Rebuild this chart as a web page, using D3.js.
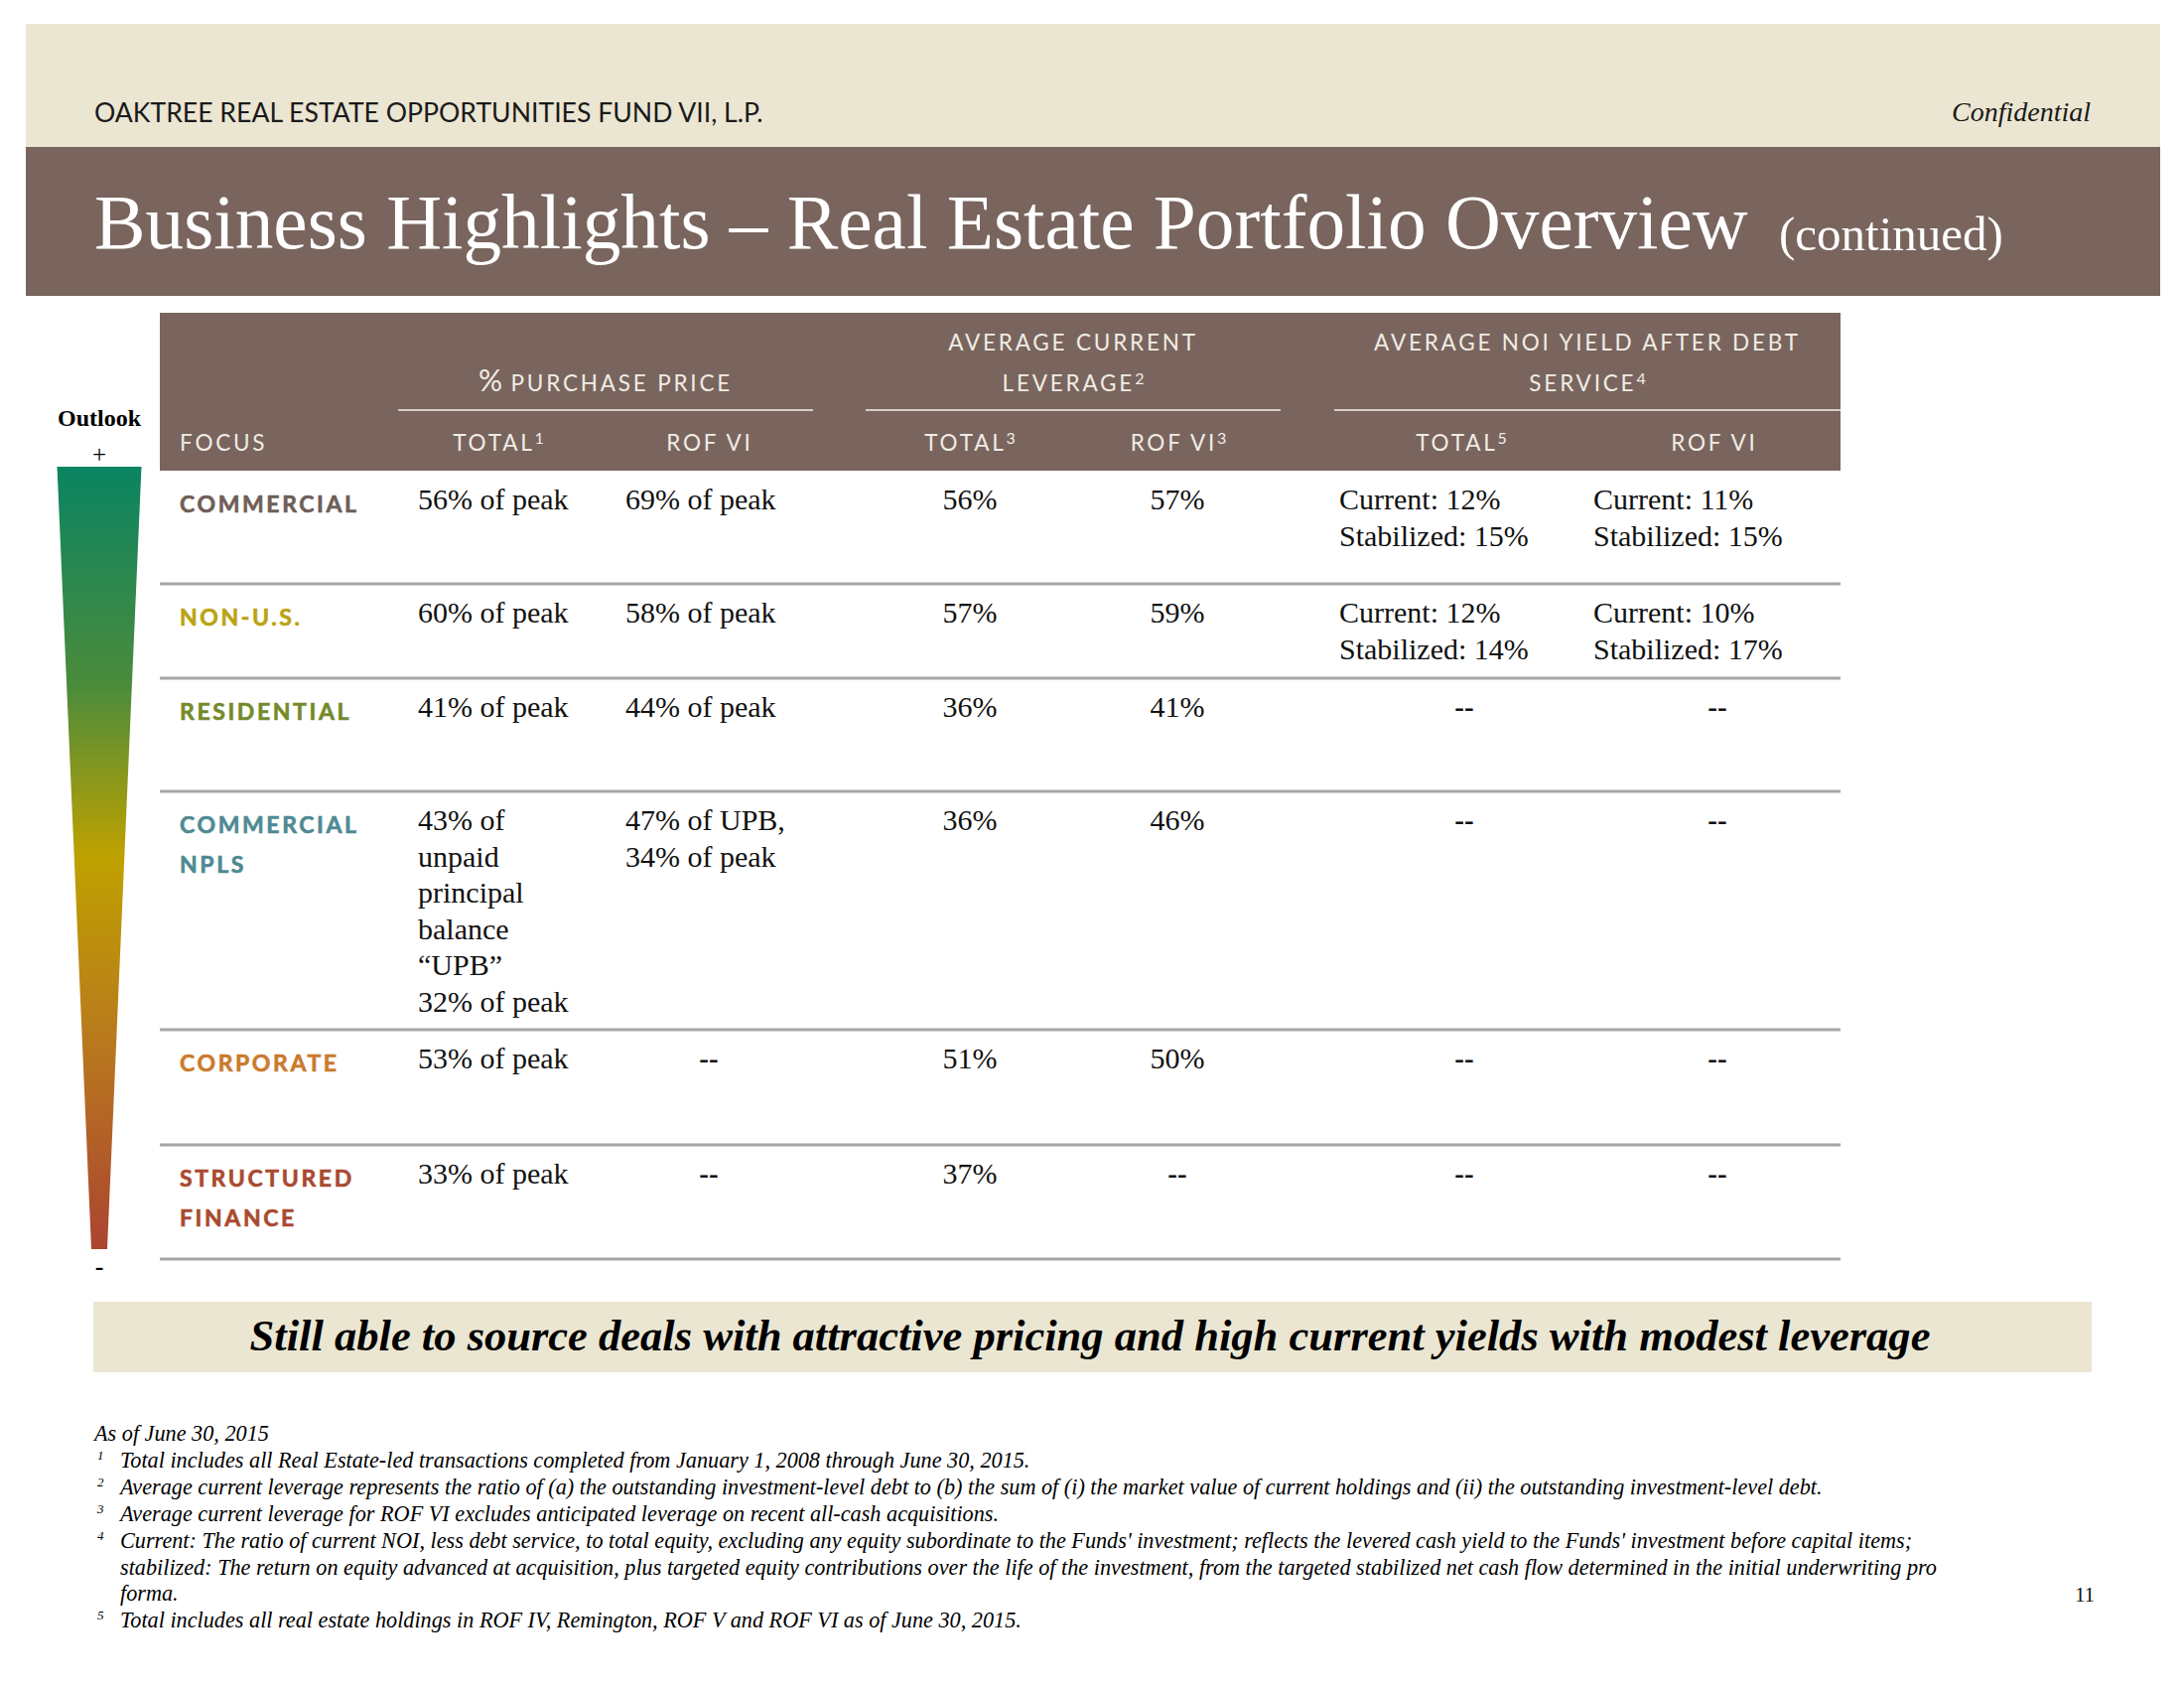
<!DOCTYPE html>
<html>
<head>
<meta charset="utf-8">
<script src="https://cdn.jsdelivr.net/npm/d3@7"></script>
<style>
  body { margin: 0; background: #fff; }
  svg { display: block; }
</style>
</head>
<body>
<svg id="chart" width="2200" height="1700"></svg>
<script>
// ---- data ----
var categories = ["COMMERCIAL", "NON-U.S.", "RESIDENTIAL", "COMMERCIAL NPLS", "CORPORATE", "STRUCTURED FINANCE"];
var categoryLines = [["COMMERCIAL"], ["NON-U.S."], ["RESIDENTIAL"], ["COMMERCIAL", "NPLS"], ["CORPORATE"], ["STRUCTURED", "FINANCE"]];
var categoryColors = ["#6f5e58", "#bba312", "#758a2b", "#4e8a93", "#c97b2d", "#a94a30"];

var purchaseTotal = [["56% of peak"], ["60% of peak"], ["41% of peak"],
  ["43% of", "unpaid", "principal", "balance", "\u201cUPB\u201d", "32% of peak"], ["53% of peak"], ["33% of peak"]];
var purchaseRof = [["69% of peak"], ["58% of peak"], ["44% of peak"], ["47% of UPB,", "34% of peak"], null, null];
var leverageTotal = [56, 57, 36, 36, 51, 37];
var leverageRof = [57, 59, 41, 46, 50, null];
var noiTotalCurrent = [12, 12, null, null, null, null];
var noiTotalStabilized = [15, 14, null, null, null, null];
var noiRofCurrent = [11, 10, null, null, null, null];
var noiRofStabilized = [15, 17, null, null, null, null];

var footnotes = [
  {n: "", lines: ["As of June 30, 2015"]},
  {n: "1", lines: ["Total includes all Real Estate-led transactions completed from January 1, 2008 through June 30, 2015."]},
  {n: "2", lines: ["Average current leverage represents the ratio of (a) the outstanding investment-level debt to (b) the sum of (i) the market value of current holdings and (ii) the outstanding investment-level debt."]},
  {n: "3", lines: ["Average current leverage for ROF VI excludes anticipated leverage on recent all-cash acquisitions."]},
  {n: "4", lines: ["Current: The ratio of current NOI, less debt service, to total equity, excluding any equity subordinate to the Funds' investment; reflects the levered cash yield to the Funds' investment before capital items;",
                   "stabilized: The return on equity advanced at acquisition, plus targeted equity contributions over the life of the investment, from the targeted stabilized net cash flow determined in the initial underwriting pro",
                   "forma."]},
  {n: "5", lines: ["Total includes all real estate holdings in ROF IV, Remington, ROF V and ROF VI as of June 30, 2015."]}
];

var outlookStops = [
  {offset: 0, color: "#0a8462"},
  {offset: 0.28, color: "#4b8b3b"},
  {offset: 0.5, color: "#bfa100"},
  {offset: 0.75, color: "#b8761f"},
  {offset: 1, color: "#ab4431"}
];

// ---- layout ----
var brown = "#79655e", beige = "#ebe6d2", rule = "#a6a6a6";
var serif = "'Liberation Serif', 'Times New Roman', serif";
var sans = "Lato, 'Open Sans', sans-serif";
var tableLeft = 161, tableRight = 1854, headTop = 315, headBottom = 474;
var rowHeights = [114, 95, 114, 240, 116, 115];
var lineH = 36.5;

var svg = d3.select("#chart");

function fit(sel, w) {
  var len = sel.node().getComputedTextLength();
  var fs = parseFloat(sel.attr("font-size"));
  sel.attr("font-size", fs * w / len);
  return fs * w / len;
}

// page bands
svg.append("rect").attr("x", 26).attr("y", 24).attr("width", 2150).attr("height", 124).attr("fill", beige);
svg.append("rect").attr("x", 26).attr("y", 148).attr("width", 2150).attr("height", 150).attr("fill", brown);

var top1 = svg.append("text").attr("x", 95).attr("y", 123).attr("font-family", sans)
  .attr("font-size", 24).attr("fill", "#1a1a1a").text("OAKTREE REAL ESTATE OPPORTUNITIES FUND VII, L.P.");
fit(top1, 674);
var conf = svg.append("text").attr("x", 2106).attr("y", 122).attr("text-anchor", "end").attr("font-family", serif)
  .attr("font-style", "italic").attr("font-size", 26).attr("fill", "#1a1a1a").text("Confidential");
fit(conf, 140);

var title = svg.append("text").attr("x", 95).attr("y", 250).attr("font-family", serif)
  .attr("font-size", 72).attr("fill", "#fff").text("Business Highlights \u2013 Real Estate Portfolio Overview");
fit(title, 1666);
var cont = svg.append("text").attr("x", 1792).attr("y", 252).attr("font-family", serif)
  .attr("font-size", 46).attr("fill", "#fff").text("(continued)");
fit(cont, 226);

// table header
svg.append("rect").attr("x", tableLeft).attr("y", headTop).attr("width", tableRight - tableLeft)
  .attr("height", headBottom - headTop).attr("fill", brown);

var headColor = "#f1ece4";
var headSize = 22.5, headSpacing = 2.8;
var groups = [
  {lines: [[{t: "%", big: true}, {t: " PURCHASE PRICE"}]], x0: 401, x1: 819},
  {lines: [[{t: "AVERAGE CURRENT"}], [{t: "LEVERAGE"}, {t: "2", sup: true}]], x0: 872, x1: 1290},
  {lines: [[{t: "AVERAGE NOI YIELD AFTER DEBT"}], [{t: "SERVICE"}, {t: "4", sup: true}]], x0: 1344, x1: 1854}
];
groups.forEach(function(g) {
  var cx = (g.x0 + g.x1) / 2;
  var n = g.lines.length;
  g.lines.forEach(function(parts, i) {
    var t = svg.append("text").attr("x", cx).attr("y", 394 - (n - 1 - i) * 41)
      .attr("text-anchor", "middle").attr("font-family", sans).attr("font-size", headSize)
      .attr("letter-spacing", headSpacing).attr("fill", headColor);
    parts.forEach(function(p) {
      var s = t.append("tspan").text(p.t);
      if (p.big) s.attr("font-size", 30).attr("letter-spacing", 0);
      if (p.sup) s.attr("font-size", 16).attr("baseline-shift", "45%").attr("letter-spacing", 0);
    });
  });
  svg.append("line").attr("x1", g.x0).attr("x2", g.x1).attr("y1", 413).attr("y2", 413)
    .attr("stroke", "#f4f0ea").attr("stroke-width", 1.5);
});

var subHeads = [
  {t: "FOCUS", x: 181, anchor: "start"},
  {t: "TOTAL", sup: "1", x: 502},
  {t: "ROF VI", x: 715},
  {t: "TOTAL", sup: "3", x: 977},
  {t: "ROF VI", sup: "3", x: 1187},
  {t: "TOTAL", sup: "5", x: 1472},
  {t: "ROF VI", x: 1727}
];
subHeads.forEach(function(h) {
  var t = svg.append("text").attr("x", h.x).attr("y", 454).attr("text-anchor", h.anchor || "middle")
    .attr("font-family", sans).attr("font-size", headSize).attr("letter-spacing", headSpacing).attr("fill", headColor);
  t.append("tspan").text(h.t);
  if (h.sup) t.append("tspan").attr("font-size", 16).attr("baseline-shift", "45%").attr("letter-spacing", 0).text(h.sup);
});

// rows
var rowTops = [headBottom].concat(Array.from(d3.cumsum(rowHeights), function(v) { return headBottom + v; }));
var y = d3.scaleOrdinal().domain(categories).range(rowTops.slice(0, categories.length));

var pct = function(v) { return v == null ? null : [v + "%"]; };
var cols = [
  {get: function(i) { return purchaseTotal[i]; }, x: 421, anchor: "start", mid: 500},
  {get: function(i) { return purchaseRof[i]; }, x: 630, anchor: "start", mid: 714},
  {get: function(i) { return pct(leverageTotal[i]); }, x: 977, anchor: "middle", mid: 977},
  {get: function(i) { return pct(leverageRof[i]); }, x: 1186, anchor: "middle", mid: 1186},
  {get: function(i) { return noiTotalCurrent[i] == null ? null : ["Current: " + noiTotalCurrent[i] + "%", "Stabilized: " + noiTotalStabilized[i] + "%"]; }, x: 1349, anchor: "start", mid: 1475},
  {get: function(i) { return noiRofCurrent[i] == null ? null : ["Current: " + noiRofCurrent[i] + "%", "Stabilized: " + noiRofStabilized[i] + "%"]; }, x: 1605, anchor: "start", mid: 1730}
];

categories.forEach(function(cat, i) {
  var top = y(cat);
  var base = top + 39;
  var g = svg.append("g");
  categoryLines[i].forEach(function(l, k) {
    g.append("text").attr("x", 181).attr("y", base + 3 + k * 40).attr("font-family", sans)
      .attr("font-weight", 700).attr("font-size", 23).attr("letter-spacing", 2.6)
      .attr("fill", categoryColors[i]).attr("stroke", categoryColors[i]).attr("stroke-width", 0.6)
      .text(l);
  });
  cols.forEach(function(c) {
    var lines = c.get(i);
    if (lines == null) {
      g.append("text").attr("x", c.mid).attr("y", base).attr("text-anchor", "middle")
        .attr("font-family", serif).attr("font-weight", 700).attr("font-size", 29).attr("fill", "#111").text("--");
      return;
    }
    lines.forEach(function(l, k) {
      g.append("text").attr("x", c.x).attr("y", base + k * lineH).attr("text-anchor", c.anchor)
        .attr("font-family", serif).attr("font-size", 30).attr("fill", "#111").text(l);
    });
  });
  svg.append("line").attr("x1", tableLeft).attr("x2", tableRight)
    .attr("y1", top + rowHeights[i]).attr("y2", top + rowHeights[i])
    .attr("stroke", rule).attr("stroke-width", 3);
});

// outlook wedge
var defs = svg.append("defs");
var grad = defs.append("linearGradient").attr("id", "outlook").attr("x1", 0).attr("x2", 0).attr("y1", 0).attr("y2", 1);
grad.selectAll("stop").data(outlookStops).join("stop")
  .attr("offset", function(d) { return d.offset; }).attr("stop-color", function(d) { return d.color; });
var oy = d3.scaleLinear().domain([0, 1]).range([470, 1258]);
var ow = d3.scaleLinear().domain([0, 1]).range([85, 16]);
var ocx = 100;
svg.append("path").attr("fill", "url(#outlook)")
  .attr("d", d3.line()([[ocx - ow(0) / 2, oy(0)], [ocx + ow(0) / 2, oy(0)], [ocx + ow(1) / 2, oy(1)], [ocx - ow(1) / 2, oy(1)]]) + "Z");
svg.append("text").attr("x", ocx).attr("y", 429).attr("text-anchor", "middle").attr("font-family", serif)
  .attr("font-weight", 700).attr("font-size", 24).attr("fill", "#000").text("Outlook");
svg.append("text").attr("x", ocx).attr("y", 466).attr("text-anchor", "middle").attr("font-family", serif)
  .attr("font-size", 25).attr("fill", "#000").text("+");
svg.append("text").attr("x", ocx).attr("y", 1284).attr("text-anchor", "middle").attr("font-family", serif)
  .attr("font-weight", 700).attr("font-size", 26).attr("fill", "#000").text("-");

// banner
svg.append("rect").attr("x", 94).attr("y", 1311).attr("width", 2013).attr("height", 71).attr("fill", beige);
var banner = svg.append("text").attr("x", 1098).attr("y", 1360).attr("text-anchor", "middle").attr("font-family", serif)
  .attr("font-weight", 700).attr("font-style", "italic").attr("font-size", 40).attr("fill", "#000")
  .text("Still able to source deals with attractive pricing and high current yields with modest leverage");
fit(banner, 1693);

// footnotes
var fnSize = 20;
var probe = svg.append("text").attr("font-family", serif).attr("font-style", "italic").attr("font-size", fnSize)
  .text(footnotes[2].lines[0]);
fnSize = fit(probe, 1716);
probe.remove();
var fy = 1451, k = 0;
footnotes.forEach(function(f) {
  if (f.n) {
    svg.append("text").attr("x", 98).attr("y", fy + k * 26.9 - 8).attr("font-family", serif)
      .attr("font-style", "italic").attr("font-size", 13).attr("fill", "#000").text(f.n);
  }
  f.lines.forEach(function(l) {
    svg.append("text").attr("x", f.n ? 121 : 95).attr("y", fy + k * 26.9).attr("font-family", serif)
      .attr("font-style", "italic").attr("font-size", fnSize).attr("fill", "#000").text(l);
    k++;
  });
});
svg.append("text").attr("x", 2100).attr("y", 1613).attr("text-anchor", "middle").attr("font-family", serif)
  .attr("font-size", 21).attr("fill", "#111").text("11");
</script>
</body>
</html>
